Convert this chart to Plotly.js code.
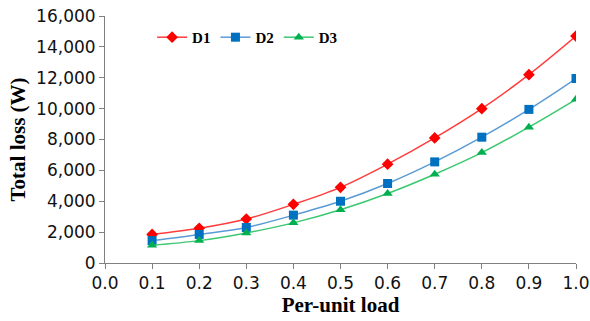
<!DOCTYPE html>
<html><head><meta charset="utf-8">
<script src="https://cdn.plot.ly/plotly-3.0.1.min.js"></script>
<style>html,body{margin:0;padding:0;background:#fff}#c{width:590px;height:321px}</style>
</head><body><div id="c"></div>
<script>
const load = [0.1,0.2,0.3,0.4,0.5,0.6,0.7,0.8,0.9,1.0];
const d1 = [1850,2250,2850,3800,4900,6400,8100,10000,12200,14700];
const d2 = [1450,1850,2300,3100,4000,5150,6550,8150,9950,11950];
const d3 = [1150,1450,1950,2600,3450,4500,5750,7150,8800,10600];
const names = ["D1","D2","D3"];
const xTicks = [0,0.1,0.2,0.3,0.4,0.5,0.6,0.7,0.8,0.9,1.0];
const yTicks = [0,2000,4000,6000,8000,10000,12000,14000,16000];

const serif = "Liberation Serif, Times New Roman, serif";
const sans = "DejaVu Sans, Verdana, sans-serif";
function tr(y, name, lc, mc, sym, sz){
  return {x: load, y: y, name: name, type:'scatter', mode:'lines+markers',
    line:{color:lc, width:1.5, shape:'spline'},
    marker:{color:mc, symbol:sym, size:sz}};
}
const data = [
  tr(d1, names[0], '#ff3b3b', '#ff0000', 'diamond', 9),
  tr(d2, names[1], '#5b9bd5', '#0070c0', 'square', 9),
  tr(d3, names[2], '#3cc870', '#00b050', 'triangle-up', 9)
];
const layout = {
  width:590, height:321,
  margin:{l:105, r:14, t:16, b:58},
  paper_bgcolor:'#fff', plot_bgcolor:'#fff',
  font:{family:serif, color:'#000', size:15},
  showlegend:true,
  legend:{orientation:'h', x:0.1, y:0.98, xanchor:'left', yanchor:'top',
    font:{family:serif, size:15, weight:'bold'}, bgcolor:'rgba(0,0,0,0)', tracegroupgap:0},
  xaxis:{range:[0,1.0], tickvals:xTicks, ticktext:xTicks.map(v=>v.toFixed(1)),
    showgrid:false, zeroline:false, showline:true, linecolor:'#808080', linewidth:1,
    ticks:'outside', ticklen:5, tickcolor:'#808080',
    tickfont:{family:sans, size:17, color:'#111'},
    title:{text:'Per-unit load', font:{family:serif, size:21, weight:'bold'}, standoff:3}},
  yaxis:{range:[0,16000], tickvals:yTicks, ticktext:yTicks.map(v=>v.toLocaleString('en-US')),
    showgrid:false, zeroline:false, showline:true, linecolor:'#808080', linewidth:1,
    ticks:'outside', ticklen:5, tickcolor:'#808080',
    tickfont:{family:sans, size:17, color:'#111'},
    title:{text:'Total loss (W)', font:{family:serif, size:21, weight:'bold'}, standoff:4}}
};
Plotly.newPlot('c', data, layout, {displayModeBar:false, staticPlot:true});
</script></body></html>
